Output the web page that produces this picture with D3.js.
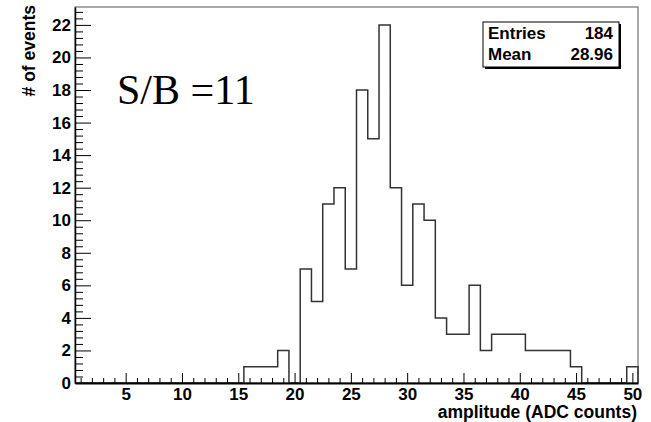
<!DOCTYPE html>
<html>
<head>
<meta charset="utf-8">
<script src="https://cdn.jsdelivr.net/npm/d3@7"></script>
<style>
  html, body { margin: 0; padding: 0; background: #fff; }
  svg { display: block; }
</style>
</head>
<body>
<svg id="chart" width="651" height="422"></svg>
<script>
// ---- data ----
const binCenters = d3.range(1, 51); // 50 bins of width 1, centered on integers
const binCounts = [
  0,0,0,0,0, 0,0,0,0,0, 0,0,0,0,0,
  1,1,1,2,0, 7,5,11,12,7, 18,15,22,12,6, 11,10,4,3,3,
  6,2,3,3,3, 2,2,2,2,1, 0,0,0,0,1
];
const xTickLabels = [5, 10, 15, 20, 25, 30, 35, 40, 45, 50];
const yTickLabels = [0, 2, 4, 6, 8, 10, 12, 14, 16, 18, 20, 22];
const statsLabels = ["Entries", "Mean"];
const statsValues = ["184", "28.96"];
const annotation = "S/B =11";
const xTitle = "amplitude (ADC counts)";
const yTitle = "# of events";

// ---- layout ----
const frame = { left: 75, right: 638, top: 7, bottom: 383 };
const svg = d3.select("#chart");

const x = d3.scaleLinear().domain([0.5, 50.5]).range([frame.left, frame.right]);
const y = d3.scaleLinear().domain([0, 23.1]).range([frame.bottom, frame.top]);

// frame (top/right)
svg.append("rect")
  .attr("x", frame.left).attr("y", frame.top)
  .attr("width", frame.right - frame.left).attr("height", frame.bottom - frame.top)
  .attr("fill", "none").attr("stroke", "#555").attr("stroke-width", 1);

// histogram
const pts = [[0.5, 0]];
binCenters.forEach((c, i) => {
  pts.push([c - 0.5, binCounts[i]]);
  pts.push([c + 0.5, binCounts[i]]);
});
pts.push([50.5, 0]);
svg.append("path")
  .datum(pts)
  .attr("fill", "none")
  .attr("stroke", "#333")
  .attr("stroke-width", 1.5)
  .attr("d", d3.line().x(d => x(d[0])).y(d => y(d[1])));

const fontSans = "'Liberation Sans', Arial, Helvetica, sans-serif";

// x axis minor ticks
const xMinor = d3.range(1, 51).filter(v => v % 5 !== 0);
svg.append("g")
  .attr("transform", `translate(0,${frame.bottom})`)
  .call(d3.axisBottom(x).tickValues(xMinor).tickSize(-5).tickFormat(""))
  .call(g => g.select(".domain").remove())
  .call(g => g.selectAll("line").attr("stroke", "#000"));

// x axis major
svg.append("g")
  .attr("transform", `translate(0,${frame.bottom})`)
  .call(d3.axisBottom(x).tickValues(xTickLabels).tickSize(-10).tickSizeOuter(0).tickPadding(5).tickFormat(d3.format("d")))
  .call(g => g.select(".domain").attr("stroke", "#000").attr("stroke-width", 2))
  .call(g => g.selectAll("line").attr("stroke", "#000"))
  .call(g => g.selectAll("text").attr("font-family", fontSans).attr("font-weight", "bold").attr("font-size", 17).attr("fill", "#000"));

// y axis minor ticks
const yMinor = d3.range(0, 58).map(i => +(i * 0.4).toFixed(2)).filter(v => v <= 23.1 && Math.abs(v / 2 - Math.round(v / 2)) > 1e-6);
svg.append("g")
  .attr("transform", `translate(${frame.left},0)`)
  .call(d3.axisLeft(y).tickValues(yMinor).tickSize(-8).tickFormat(""))
  .call(g => g.select(".domain").remove())
  .call(g => g.selectAll("line").attr("stroke", "#000"));

// y axis major
svg.append("g")
  .attr("transform", `translate(${frame.left},0)`)
  .call(d3.axisLeft(y).tickValues(yTickLabels).tickSize(-16).tickSizeOuter(0).tickPadding(4).tickFormat(d3.format("d")))
  .call(g => g.select(".domain").attr("stroke", "#000").attr("stroke-width", 1.5))
  .call(g => g.selectAll("line").attr("stroke", "#000"))
  .call(g => g.selectAll("text").attr("font-family", fontSans).attr("font-weight", "bold").attr("font-size", 17).attr("fill", "#000"));

// axis titles
svg.append("text")
  .attr("x", 637).attr("y", 418)
  .attr("text-anchor", "end")
  .attr("font-family", fontSans).attr("font-weight", "bold").attr("font-size", 17.5)
  .text(xTitle);

svg.append("text")
  .attr("transform", "translate(35,5) rotate(-90)")
  .attr("text-anchor", "end")
  .attr("font-family", fontSans).attr("font-weight", "bold").attr("font-size", 17.5)
  .text(yTitle);

// annotation
svg.append("text")
  .attr("x", 117).attr("y", 104)
  .attr("font-family", "'Liberation Serif', 'Times New Roman', serif").attr("font-size", 42)
  .text(annotation);

// stats box
const box = { x: 483, y: 22, w: 136, h: 45 };
svg.append("rect")
  .attr("x", box.x + 2).attr("y", box.y + 2).attr("width", box.w).attr("height", box.h)
  .attr("fill", "#000");
svg.append("rect")
  .attr("x", box.x).attr("y", box.y).attr("width", box.w).attr("height", box.h)
  .attr("fill", "#fff").attr("stroke", "#000").attr("stroke-width", 1);
statsLabels.forEach((lab, i) => {
  svg.append("text")
    .attr("x", box.x + 5).attr("y", box.y + 17 + i * 20.5)
    .attr("font-family", fontSans).attr("font-weight", "bold").attr("font-size", 17)
    .text(lab);
  svg.append("text")
    .attr("x", box.x + box.w - 6).attr("y", box.y + 17 + i * 20.5)
    .attr("text-anchor", "end")
    .attr("font-family", fontSans).attr("font-weight", "bold").attr("font-size", 17)
    .text(statsValues[i]);
});
</script>
</body>
</html>
